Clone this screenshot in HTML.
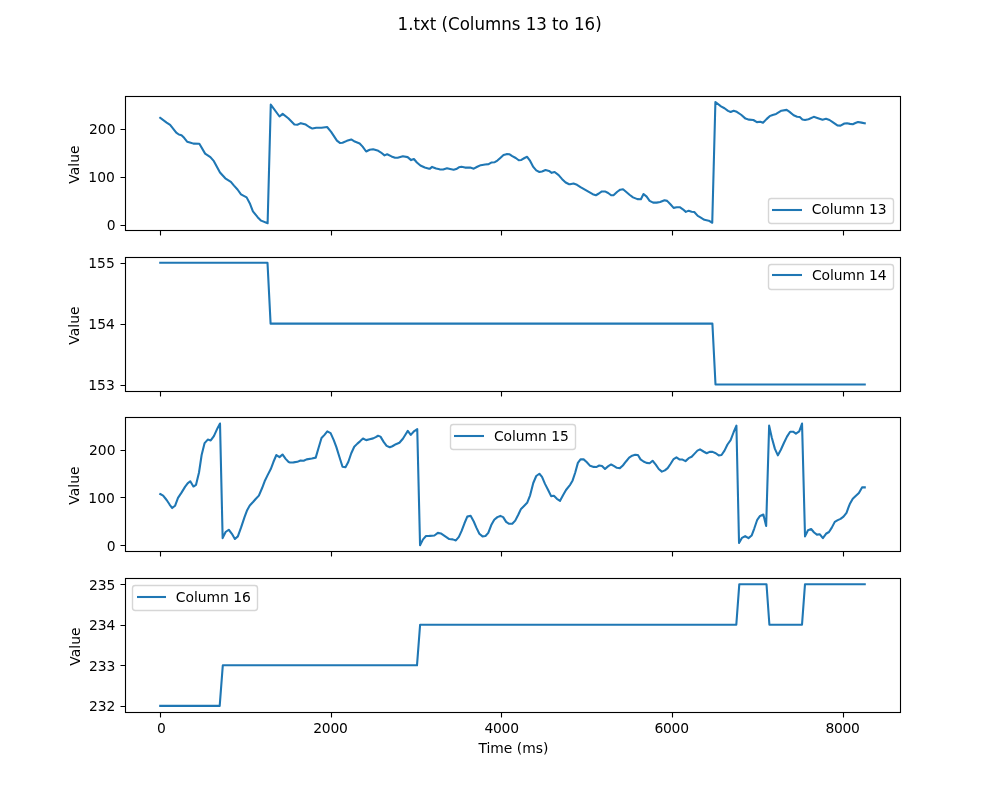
<!DOCTYPE html>
<html lang="en"><head><meta charset="utf-8"><title>1.txt (Columns 13 to 16)</title>
<style>html,body{margin:0;padding:0;background:#fff}svg{display:block}</style></head>
<body>
<svg width="1000" height="800" viewBox="0 0 1000 800" font-family='"DejaVu Sans","Liberation Sans",sans-serif' font-size="13.889" fill="#000">
<rect width="1000" height="800" fill="#fff"/>
<g>
<path d="M160.5 230.5V235.5M331.5 230.5V235.5M501.5 230.5V235.5M672.5 230.5V235.5M843.5 230.5V235.5M120.5 225.5H125.5M120.5 177.5H125.5M120.5 129.5H125.5" stroke="#000" stroke-width="1.111" fill="none"/>
<text x="115.67" y="230" text-anchor="end">0</text>
<text x="114.84" y="182" text-anchor="end">100</text>
<text x="115.47" y="134" text-anchor="end">200</text>
<text transform="translate(79.32 164.59) rotate(-90)" text-anchor="middle">Value</text>
<polyline points="160.23,117.90 166.63,122.63 170.13,124.91 176.25,132.61 178.88,134.53 181.51,135.23 184.13,137.86 187.11,141.71 189.91,142.41 193.41,143.63 199.36,143.81 205.13,153.61 210.39,157.11 213.89,161.14 220.01,172.51 225.26,178.29 230.86,181.79 234.01,185.64 237.51,189.49 241.02,194.39 246.62,197.37 250.12,204.02 252.92,211.37 257.64,217.15 261.14,220.65 267.62,223.27 270.77,104.60 279.52,116.50 282.67,113.88 288.27,118.25 290.00,120.00 294.38,124.56 297.35,124.73 300.85,123.16 305.75,124.56 309.25,127.01 312.40,128.58 316.25,127.71 321.51,127.71 327.11,127.01 331.13,131.91 336.91,140.66 339.88,142.93 342.51,142.76 346.88,140.83 351.26,139.43 354.76,141.53 359.66,143.46 362.64,146.61 366.14,151.51 369.64,149.76 373.14,149.23 377.51,150.46 381.02,152.56 384.52,155.36 387.14,154.31 391.52,156.41 395.02,157.81 397.64,157.81 402.89,156.24 407.62,157.11 411.12,160.09 413.92,159.04 416.90,162.54 420.40,165.51 424.77,167.44 429.15,168.66 430.00,168.66 432.10,166.91 436.13,168.49 439.63,169.36 443.13,169.54 446.98,168.31 450.13,169.01 453.63,169.71 456.25,169.01 458.88,167.26 461.51,166.74 465.01,167.61 470.26,167.61 473.76,168.66 477.26,166.74 480.76,165.16 485.13,164.46 488.63,164.11 491.26,162.54 494.76,162.19 497.39,160.61 500.01,158.16 503.51,155.01 506.49,154.14 509.64,154.31 512.26,156.06 515.76,157.99 518.74,160.26 521.37,159.91 524.52,157.99 527.14,156.76 529.77,160.26 533.27,166.91 536.24,170.41 539.39,171.99 542.02,171.46 545.52,170.06 549.02,170.94 551.65,172.86 554.62,171.99 558.65,175.14 562.15,179.16 565.65,182.49 569.15,184.24 570.00,184.24 573.50,183.54 577.00,184.77 580.50,187.04 586.63,190.72 592.75,194.22 595.90,195.27 598.88,193.52 601.86,191.42 605.01,191.42 608.16,192.99 611.13,195.27 613.76,195.09 617.26,191.77 620.23,189.67 623.03,189.32 626.01,191.77 629.51,194.74 633.01,197.37 637.39,199.12 640.89,199.29 643.51,194.04 646.66,196.67 649.64,200.87 653.14,202.62 656.64,202.62 660.14,201.92 664.52,200.17 667.14,200.87 670.64,204.54 673.62,207.87 676.77,207.17 679.74,207.17 682.89,209.27 685.87,211.89 688.67,210.67 691.65,211.72 694.27,212.07 697.77,215.92 700.00,217.15 704.38,219.77 708.75,220.65 712.25,222.75 715.40,101.98 721.00,106.35 724.50,108.28 728.00,110.90 730.63,111.95 733.61,110.73 736.76,111.78 741.13,114.75 745.51,118.60 749.01,119.65 753.38,120.00 756.88,122.11 760.39,121.75 763.01,122.81 766.51,119.13 769.66,116.15 772.64,114.93 776.14,113.88 781.39,110.73 786.64,109.85 789.26,111.60 793.64,115.28 797.14,116.68 799.77,117.03 802.39,119.48 805.02,120.00 808.52,119.30 813.77,116.85 817.27,117.90 822.52,119.65 826.02,118.78 829.52,120.00 833.02,122.46 837.40,125.43 840.55,125.61 844.40,123.51 847.02,123.33 850.00,123.86 852.77,124.21 855.39,122.98 858.02,121.93 861.52,122.63 864.77,123.33" fill="none" stroke="#1f77b4" stroke-width="2.083" stroke-linejoin="round" stroke-linecap="square"/>
<rect x="125.5" y="96.5" width="775" height="134" fill="none" stroke="#000" stroke-width="1.111"/>
<rect x="768.5" y="198.5" width="125" height="25" rx="2.78" fill="#fff" fill-opacity="0.8" stroke="#ccc" stroke-opacity="0.8" stroke-width="1.389"/>
<path d="M772 210H802" stroke="#1f77b4" stroke-width="2.083"/>
<text x="811.74" y="214" letter-spacing="-0.05">Column 13</text>
</g>
<g>
<path d="M160.5 391.5V396.5M331.5 391.5V396.5M501.5 391.5V396.5M672.5 391.5V396.5M843.5 391.5V396.5M120.5 385.5H125.5M120.5 324.5H125.5M120.5 263.5H125.5" stroke="#000" stroke-width="1.111" fill="none"/>
<text x="114.73" y="390" text-anchor="end">153</text>
<text x="114.82" y="329" text-anchor="end">154</text>
<text x="114.76" y="268" text-anchor="end">155</text>
<text transform="translate(79.32 325.58) rotate(-90)" text-anchor="middle">Value</text>
<polyline points="160.23,262.80 267.50,262.80 270.60,323.65 712.40,323.65 715.50,384.50 864.77,384.50" fill="none" stroke="#1f77b4" stroke-width="2.083" stroke-linejoin="round" stroke-linecap="square"/>
<rect x="125.5" y="257.5" width="775" height="134" fill="none" stroke="#000" stroke-width="1.111"/>
<rect x="768.5" y="264.5" width="125" height="25" rx="2.78" fill="#fff" fill-opacity="0.8" stroke="#ccc" stroke-opacity="0.8" stroke-width="1.389"/>
<path d="M772 275H802" stroke="#1f77b4" stroke-width="2.083"/>
<text x="811.90" y="280" letter-spacing="-0.05">Column 14</text>
</g>
<g>
<path d="M160.5 551.5V556.5M331.5 551.5V556.5M501.5 551.5V556.5M672.5 551.5V556.5M843.5 551.5V556.5M120.5 545.5H125.5M120.5 497.5H125.5M120.5 450.5H125.5" stroke="#000" stroke-width="1.111" fill="none"/>
<text x="115.67" y="551" text-anchor="end">0</text>
<text x="114.84" y="503" text-anchor="end">100</text>
<text x="115.47" y="455" text-anchor="end">200</text>
<text transform="translate(79.32 485.59) rotate(-90)" text-anchor="middle">Value</text>
<polyline points="160.23,494.04 163.13,495.61 166.63,499.99 169.60,504.54 172.23,508.04 175.03,505.77 178.00,497.89 181.51,492.64 185.01,486.86 187.63,483.36 190.26,481.26 193.41,486.51 196.03,484.76 199.01,472.51 201.63,455.01 204.61,443.11 207.76,439.60 210.74,440.48 213.89,436.10 217.39,428.40 220.01,423.50 222.64,538.15 225.61,532.02 228.76,529.74 231.91,533.77 234.89,539.02 237.86,536.40 241.02,527.64 244.52,517.14 247.14,510.14 249.77,505.42 253.27,501.74 255.89,498.76 258.87,495.61 262.02,488.26 264.64,481.26 267.62,475.14 270.77,469.01 273.40,462.01 276.37,455.01 279.52,457.11 282.50,454.48 285.65,458.86 288.62,462.01 290.00,462.53 293.50,462.36 297.35,461.83 300.50,460.43 303.65,460.78 306.63,459.38 311.88,458.51 315.73,457.63 318.53,448.01 321.51,438.03 324.48,434.88 327.28,431.38 330.61,433.13 333.76,440.13 336.38,447.13 339.36,456.76 342.51,466.73 345.48,467.26 348.28,462.01 351.26,453.26 354.24,446.78 357.39,443.63 360.01,441.35 362.99,438.55 366.14,440.13 369.64,439.25 373.14,438.38 375.76,437.15 378.04,435.75 380.49,436.63 383.64,441.88 386.62,445.91 389.77,447.31 392.39,446.26 395.89,444.16 399.39,442.75 402.89,438.73 405.52,434.53 407.79,430.85 410.77,434.88 414.27,431.03 417.25,429.10 420.05,545.15 423.02,539.37 426.00,536.05 429.15,536.05 430.00,535.87 434.38,535.52 437.88,532.89 440.85,533.42 444.88,536.05 449.25,539.02 452.75,539.37 455.90,540.42 458.88,536.92 461.51,531.14 464.48,523.27 467.28,516.62 470.61,515.74 473.76,521.52 476.38,527.64 479.36,533.77 482.51,536.40 485.48,536.05 488.28,532.89 491.26,525.02 494.24,519.77 497.39,517.14 500.36,515.92 503.16,517.14 506.14,521.87 509.11,523.79 512.26,523.79 515.24,520.64 518.39,514.52 521.02,508.92 524.52,505.42 527.14,502.79 530.12,495.26 533.27,483.01 536.24,476.01 539.39,473.74 542.02,476.89 544.99,483.89 548.14,490.01 551.12,496.14 553.92,495.79 556.90,498.76 560.05,500.86 563.02,495.26 566.00,490.01 569.50,485.64 570.00,485.11 572.63,480.39 575.25,472.51 577.88,462.88 580.50,459.38 583.65,459.38 586.63,462.01 590.13,465.86 593.63,466.91 596.25,467.08 599.23,465.51 602.03,466.03 605.01,469.01 607.98,466.38 611.13,464.46 613.76,465.86 616.91,467.78 619.88,468.13 622.86,465.51 626.01,461.48 629.16,457.63 632.14,455.71 635.11,454.83 637.91,455.01 640.54,459.38 643.51,461.48 646.49,462.88 649.64,463.23 652.61,460.78 655.76,464.63 658.74,469.01 661.89,471.63 664.87,470.41 667.67,468.13 670.64,463.76 673.62,459.03 676.42,457.28 679.39,459.38 682.54,459.56 685.52,461.13 688.67,458.16 691.65,456.76 694.62,453.61 697.42,450.63 700.00,449.41 703.50,451.51 706.65,453.26 709.63,451.86 712.60,451.86 715.75,453.26 718.73,455.36 721.53,455.01 724.50,450.63 727.48,444.51 730.63,440.13 733.61,432.25 736.41,425.60 739.03,543.05 742.01,537.80 745.16,536.05 748.48,538.15 751.63,535.52 754.26,528.52 757.23,519.77 760.04,515.92 763.36,514.52 766.16,525.89 769.14,425.60 771.76,437.50 774.91,448.88 777.89,455.36 780.86,449.76 784.01,442.75 786.99,436.63 790.14,431.73 793.12,431.73 795.92,433.65 799.24,431.38 802.04,423.50 805.02,536.40 807.99,530.27 811.14,529.04 814.12,532.54 816.92,534.65 819.89,534.30 822.87,538.15 826.02,533.77 829.00,532.02 831.80,527.64 834.77,521.87 837.75,520.12 840.55,518.89 843.52,516.62 846.50,512.77 848.77,506.64 849.79,504.02 852.77,498.76 855.92,495.79 858.89,492.99 862.04,487.39 864.77,487.39" fill="none" stroke="#1f77b4" stroke-width="2.083" stroke-linejoin="round" stroke-linecap="square"/>
<rect x="125.5" y="417.5" width="775" height="134" fill="none" stroke="#000" stroke-width="1.111"/>
<rect x="450.5" y="424.5" width="125" height="25" rx="2.78" fill="#fff" fill-opacity="0.8" stroke="#ccc" stroke-opacity="0.8" stroke-width="1.389"/>
<path d="M454 436H484" stroke="#1f77b4" stroke-width="2.083"/>
<text x="493.94" y="441" letter-spacing="-0.05">Column 15</text>
</g>
<g>
<path d="M160.5 712.5V717.5M331.5 712.5V717.5M501.5 712.5V717.5M672.5 712.5V717.5M843.5 712.5V717.5M120.5 706.5H125.5M120.5 665.5H125.5M120.5 625.5H125.5M120.5 584.5H125.5" stroke="#000" stroke-width="1.111" fill="none"/>
<text x="115.40" y="711" text-anchor="end">232</text>
<text x="115.37" y="671" text-anchor="end">233</text>
<text x="115.41" y="630" text-anchor="end">234</text>
<text x="115.42" y="590" text-anchor="end">235</text>
<text transform="translate(80.32 646.59) rotate(-90)" text-anchor="middle">Value</text>
<polyline points="160.23,705.90 219.70,705.90 222.80,665.30 417.00,665.30 420.10,624.75 736.30,624.75 739.30,584.20 766.50,584.20 769.40,624.75 802.00,624.75 805.00,584.20 864.77,584.20" fill="none" stroke="#1f77b4" stroke-width="2.083" stroke-linejoin="round" stroke-linecap="square"/>
<rect x="125.5" y="578.5" width="775" height="134" fill="none" stroke="#000" stroke-width="1.111"/>
<rect x="132.5" y="585.5" width="125" height="25" rx="2.78" fill="#fff" fill-opacity="0.8" stroke="#ccc" stroke-opacity="0.8" stroke-width="1.389"/>
<path d="M137 597H166" stroke="#1f77b4" stroke-width="2.083"/>
<text x="175.81" y="602" letter-spacing="-0.02">Column 16</text>
</g>
<text x="161.38" y="733" text-anchor="middle">0</text>
<text x="330.42" y="733" text-anchor="middle" letter-spacing="-0.3">2000</text>
<text x="501.62" y="733" text-anchor="middle" letter-spacing="-0.3">4000</text>
<text x="671.62" y="733" text-anchor="middle" letter-spacing="-0.3">6000</text>
<text x="842.55" y="733" text-anchor="middle" letter-spacing="-0.3">8000</text>
<text x="513.35" y="753" text-anchor="middle">Time (ms)</text>
<text transform="translate(499.60 30) scale(1 1.07)" text-anchor="middle" font-size="16.667" letter-spacing="-0.02">1.txt (Columns 13 to 16)</text>
</svg>
</body></html>
